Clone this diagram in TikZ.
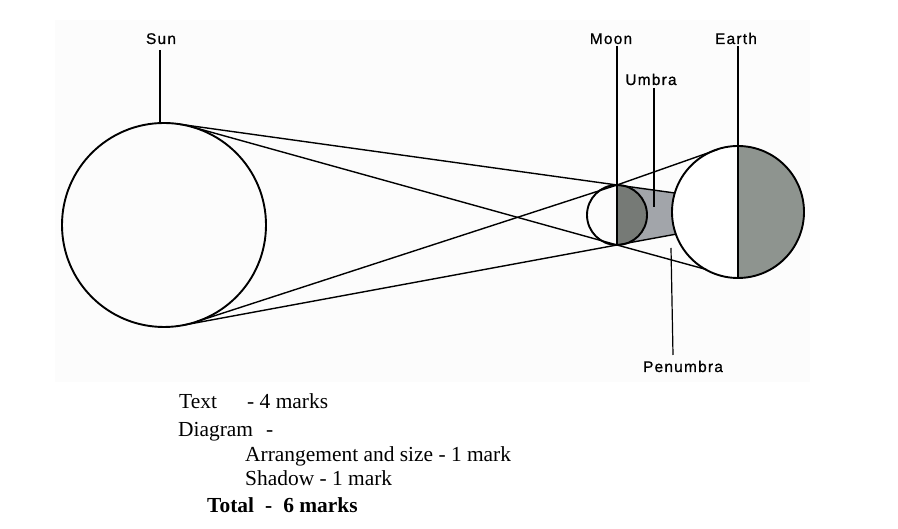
\documentclass[tikz,border=0pt]{standalone}
\usepackage{fontspec}
\setmainfont{Liberation Serif}
\newfontfamily\lab[LetterSpace=8,FakeBold=0.8]{Liberation Sans}
\usetikzlibrary{calc}
\definecolor{bgscan}{HTML}{FCFCFC}
\definecolor{moonsh}{HTML}{767A76}
\definecolor{umbsh}{HTML}{A2A5AA}
\definecolor{earthsh}{HTML}{8E948F}
\begin{document}
\begin{tikzpicture}[x=1bp,y=1bp,
  body/.style={draw=black,line width=1.9bp},
  ray/.style={draw=black,line width=1.4bp,line join=round},
  leader/.style={draw=black,line width=1.2bp},
  lbl/.style={font=\lab\fontsize{15.5}{17}\selectfont,inner sep=0pt,anchor=base},
  note/.style={font=\fontsize{21.5}{25}\selectfont,inner sep=0pt,anchor=base west},
  notebold/.style={note,font=\fontsize{21.5}{25}\selectfont\bfseries}]
\useasboundingbox (0,0) rectangle (898,529);
\fill[bgscan] (55,147) rectangle (810,509);
% key points
\coordinate (sunc) at (164,304);
\coordinate (moonc) at (617,314);
\coordinate (earthc) at (738,317);
\coordinate (mtop) at (617,344);
\coordinate (mbot) at (617,284);
\coordinate (etop) at (738,383);
\coordinate (ebot) at (738,251);
\coordinate (st1) at (178,405);
\coordinate (sb1) at (195.5,207);
\coordinate (st2) at (191.3,402.3);
\coordinate (sb2) at (182.6,203.7);
\coordinate (e1) at (718,379.6);
\coordinate (e2) at (707,259.3);
\coordinate (ea) at (674.8,336);
\coordinate (ed) at (675.8,294.8);
\coordinate (ua) at (690,333.9);
\coordinate (ud) at (690,297.5);
% umbra shading
\fill[umbsh] (mtop) -- (ua) -- (ud) -- (mbot) -- cycle;
\fill[moonsh] (mtop) arc[start angle=90,end angle=-90,radius=30] -- cycle;
% earth
\fill[white] (earthc) circle (66);
\fill[earthsh] (etop) arc[start angle=90,end angle=-90,radius=66] -- cycle;
% rays
\draw[ray] (st1) -- (mtop) -- (ea);
\draw[ray] (sb1) -- (mtop) -- (e1);
\draw[ray] (st2) -- (mbot) -- (e2);
\draw[ray] (sb2) -- (mbot) -- (ed);
% bodies
\draw[body] (sunc) circle (102);
\draw[body] (moonc) circle (30);
\draw[body] (earthc) circle (66);
% labels
\node[lbl] (sunlab) at (161,485) {Sun};
\node[lbl] (moonlab) at (611,485) {Moon};
\node[lbl] (earthlab) at (736,485) {Earth};
\node[lbl] (umblab) at (651,444) {Umbra};
\node[lbl] (penlab) at (683,157) {Penumbra};
\coordinate (sunl1) at (160,479);
\coordinate (sunl2) at (160,406);
\coordinate (moonl1) at (617,483);
\coordinate (earthl1) at (738,483);
\coordinate (umbl1) at (654,441);
\coordinate (umbl2) at (654,322);
\coordinate (penl1) at (673,174);
\coordinate (penl2) at (671,281);
\draw[leader] (sunl1) -- (sunl2);
\draw[leader] (moonl1) -- (mbot);
\draw[leader] (earthl1) -- (ebot);
\draw[leader] (umbl1) -- (umbl2);
\draw[leader] (penl1) -- (penl2);
% marking scheme
\node[note] (t1) at (179,120) {\makebox[68bp][l]{Text}-~4 marks};
\node[note] (t2) at (178,92) {\makebox[88bp][l]{Diagram}-};
\node[note] (t3) at (245,67) {Arrangement and size - 1 mark};
\node[note] (t4) at (245,43) {Shadow - 1 mark};
\node[notebold] (t5) at (207,16.3) {\makebox[58bp][l]{Total}-\hspace{11bp}6 marks};
\end{tikzpicture}
\end{document}
